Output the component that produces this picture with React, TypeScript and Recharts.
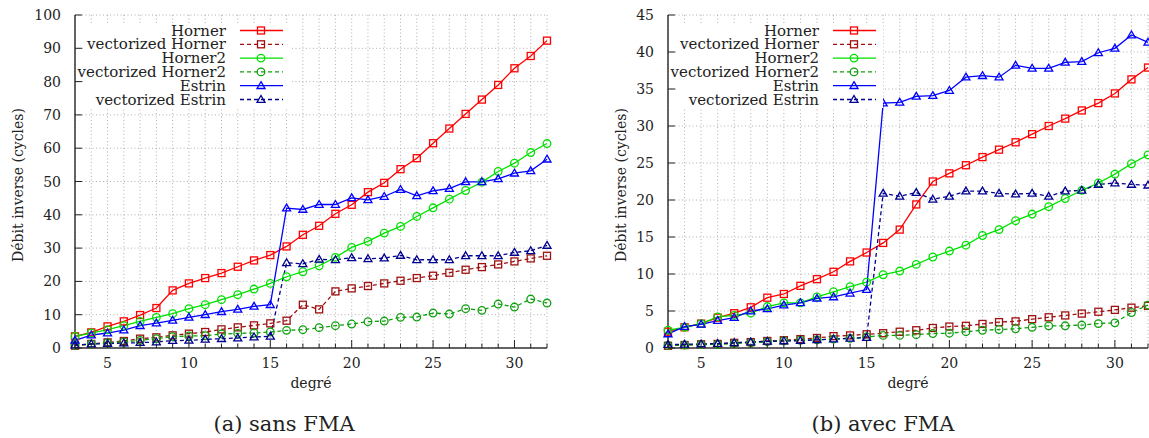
import React from 'react'
import { LineChart, Line, XAxis, YAxis, CartesianGrid, Legend } from 'recharts'

// degrés du polynôme (axe x)
const degres = [3, 4, 5, 6, 7, 8, 9, 10, 11, 12, 13, 14, 15, 16, 17, 18, 19, 20, 21, 22, 23, 24, 25, 26, 27, 28, 29, 30, 31, 32]
const xLabels = [5, 10, 15, 20, 25, 30]
const yTicksSans = [0, 10, 20, 30, 40, 50, 60, 70, 80, 90, 100]
const yTicksAvec = [0, 5, 10, 15, 20, 25, 30, 35, 40, 45]

// (a) sans FMA
const hornerSans = [3.5, 4.7, 6.5, 8.0, 9.9, 12.0, 17.3, 19.4, 21.0, 22.5, 24.4, 26.3, 27.9, 30.5, 34.0, 36.7, 40.3, 43.0, 46.8, 49.6, 53.7, 57.0, 61.5, 65.9, 70.3, 74.6, 79.0, 84.0, 87.7, 92.3]
const vecHornerSans = [0.7, 1.2, 1.7, 2.1, 2.8, 3.2, 3.8, 4.3, 4.8, 5.6, 6.2, 6.8, 7.4, 8.2, 13.0, 11.6, 17.0, 17.9, 18.6, 19.4, 20.2, 21.0, 21.7, 22.6, 23.5, 24.3, 25.1, 26.0, 26.9, 27.7]
const horner2Sans = [3.5, 4.5, 5.5, 6.7, 8.0, 9.2, 10.3, 11.8, 13.0, 14.5, 16.0, 17.7, 19.4, 21.4, 22.9, 24.7, 27.2, 30.2, 32.0, 34.5, 36.5, 39.5, 42.1, 44.7, 47.3, 49.8, 53.0, 55.5, 58.7, 61.4]
const vecHorner2Sans = [0.8, 1.2, 1.5, 1.8, 2.3, 2.8, 3.4, 3.6, 3.7, 4.2, 4.4, 4.5, 4.8, 5.3, 5.5, 6.1, 6.7, 7.2, 7.9, 8.1, 9.2, 9.3, 10.5, 10.2, 11.8, 11.3, 13.2, 12.3, 14.7, 13.5]
const estrinSans = [2.3, 3.9, 4.5, 5.4, 6.7, 7.5, 8.3, 9.2, 10.0, 10.9, 11.6, 12.5, 13.0, 42.0, 41.6, 43.1, 43.1, 45.1, 44.5, 45.5, 47.6, 45.7, 47.2, 47.9, 49.9, 49.9, 50.8, 52.5, 53.2, 56.7]
const vecEstrinSans = [0.9, 1.2, 1.3, 1.5, 1.6, 1.8, 2.2, 2.3, 2.6, 2.8, 3.0, 3.3, 3.5, 25.6, 25.3, 26.6, 26.5, 27.1, 26.8, 27.0, 27.8, 26.5, 26.5, 26.5, 27.7, 27.7, 27.7, 28.7, 29.2, 30.8]

// (b) avec FMA
const hornerAvec = [2.2, 2.8, 3.3, 4.1, 4.7, 5.5, 6.8, 7.3, 8.4, 9.3, 10.3, 11.7, 12.9, 14.2, 16.0, 19.4, 22.5, 23.6, 24.7, 25.8, 26.8, 27.8, 28.9, 30.0, 31.0, 32.1, 33.1, 34.4, 36.3, 37.9]
const vecHornerAvec = [0.3, 0.4, 0.5, 0.55, 0.7, 0.8, 0.95, 1.05, 1.2, 1.35, 1.6, 1.7, 1.85, 2.0, 2.2, 2.4, 2.7, 2.9, 3.0, 3.25, 3.5, 3.6, 3.9, 4.15, 4.4, 4.65, 4.9, 5.15, 5.45, 5.7]
const horner2Avec = [2.4, 2.8, 3.3, 4.2, 4.4, 4.7, 5.6, 6.1, 6.1, 6.9, 7.6, 8.3, 8.9, 9.9, 10.4, 11.3, 12.3, 13.1, 13.9, 15.2, 16.0, 17.2, 18.1, 19.1, 20.2, 21.3, 22.3, 23.5, 24.9, 26.1]
const vecHorner2Avec = [0.35, 0.4, 0.45, 0.5, 0.6, 0.7, 0.85, 0.95, 1.05, 1.1, 1.2, 1.3, 1.5, 1.7, 1.7, 1.8, 1.95, 2.0, 2.2, 2.4, 2.5, 2.6, 2.8, 3.0, 3.0, 3.1, 3.3, 3.4, 4.8, 5.8]
const estrinAvec = [1.9, 2.9, 3.2, 3.7, 4.1, 5.0, 5.3, 5.8, 6.1, 6.7, 6.9, 7.4, 7.9, 33.1, 33.2, 34.0, 34.1, 34.8, 36.6, 36.8, 36.6, 38.2, 37.8, 37.8, 38.6, 38.7, 39.9, 40.5, 42.3, 41.3]
const vecEstrinAvec = [0.45, 0.5, 0.55, 0.6, 0.7, 0.8, 0.9, 0.95, 1.0, 1.1, 1.2, 1.3, 1.4, 20.9, 20.5, 21.0, 20.1, 20.5, 21.2, 21.2, 20.9, 20.8, 20.9, 20.5, 21.2, 21.3, 22.1, 22.3, 22.1, 22.0]

const FONT = '"DejaVu Serif", serif'
const INK = '#222'

type Shape = 'square' | 'circle' | 'triangle'
interface SeriesDef {
  key: string
  name: string
  color: string
  dashed: boolean
  shape: Shape
}

const SERIES: SeriesDef[] = [
  { key: 'horner', name: 'Horner', color: '#ff0000', dashed: false, shape: 'square' },
  { key: 'vecHorner', name: 'vectorized Horner', color: '#a01010', dashed: true, shape: 'square' },
  { key: 'horner2', name: 'Horner2', color: '#00e000', dashed: false, shape: 'circle' },
  { key: 'vecHorner2', name: 'vectorized Horner2', color: '#10a010', dashed: true, shape: 'circle' },
  { key: 'estrin', name: 'Estrin', color: '#0000ff', dashed: false, shape: 'triangle' },
  { key: 'vecEstrin', name: 'vectorized Estrin', color: '#000090', dashed: true, shape: 'triangle' },
]

const rowsOf = (cols: Record<string, number[]>) =>
  degres.map((d, i) => {
    const row: Record<string, number> = { degre: d }
    Object.keys(cols).forEach((k) => (row[k] = cols[k][i]))
    return row
  })

const dataSans = rowsOf({
  horner: hornerSans, vecHorner: vecHornerSans, horner2: horner2Sans,
  vecHorner2: vecHorner2Sans, estrin: estrinSans, vecEstrin: vecEstrinSans,
})
const dataAvec = rowsOf({
  horner: hornerAvec, vecHorner: vecHornerAvec, horner2: horner2Avec,
  vecHorner2: vecHorner2Avec, estrin: estrinAvec, vecEstrin: vecEstrinAvec,
})

function Marker({ shape, x, y, color }: { shape: Shape; x: number; y: number; color: string }) {
  if (shape === 'square')
    return <rect x={x - 3.5} y={y - 3.5} width={7} height={7} fill="none" stroke={color} strokeWidth={1.3} />
  if (shape === 'circle') return <circle cx={x} cy={y} r={3.8} fill="none" stroke={color} strokeWidth={1.3} />
  return (
    <polygon
      points={`${x},${y - 4} ${x + 4},${y + 2.8} ${x - 4},${y + 2.8}`}
      fill="none"
      stroke={color}
      strokeWidth={1.3}
    />
  )
}

const makeDot = (s: SeriesDef) => (props: any) => {
  const { cx, cy, index } = props
  if (cx == null || cy == null) return <g key={`${s.key}-${index}`} />
  return <Marker key={`${s.key}-${index}`} shape={s.shape} x={cx} y={cy} color={s.color} />
}

const isMajorX = (v: number) => xLabels.includes(v)

const BottomTick = (props: any) => {
  const { x, y, payload } = props
  const v = payload.value
  const major = isMajorX(v)
  return (
    <g>
      <line x1={x} x2={x} y1={y} y2={y - (major ? 8 : 4.5)} stroke={INK} strokeWidth={1} />
      {major && (
        <text x={x} y={y + 20} textAnchor="middle" fontSize={14} fontFamily={FONT} fill={INK}>
          {v}
        </text>
      )}
    </g>
  )
}

const TopTick = (props: any) => {
  const { x, y, payload } = props
  const major = isMajorX(payload.value)
  return <line x1={x} x2={x} y1={y} y2={y + (major ? 8 : 4.5)} stroke={INK} strokeWidth={1} />
}

const LeftTick = (props: any) => {
  const { x, y, payload } = props
  return (
    <g>
      <line x1={x} x2={x + 7} y1={y} y2={y} stroke={INK} strokeWidth={1} />
      <text x={x - 14} y={y + 5} textAnchor="end" fontSize={14} fontFamily={FONT} fill={INK}>
        {payload.value}
      </text>
    </g>
  )
}

const RightTick = (props: any) => {
  const { x, y } = props
  return <line x1={x} x2={x - 7} y1={y} y2={y} stroke={INK} strokeWidth={1} />
}

const LEG_W = 207
const LEG_H = 84

const renderLegend = (props: any) => {
  const payload: any[] = props.payload ?? []
  return (
    <svg width={LEG_W} height={LEG_H} style={{ display: 'block', background: '#fff', overflow: 'visible' }}>
      {SERIES.map((s, i) => {
        const entry = payload.find((p) => p.dataKey === s.key || p.value === s.name)
        const cy = 6.5 + i * 13.8
        const color = entry?.color ?? s.color
        return (
          <g key={s.key}>
            <text x={143} y={cy + 5} textAnchor="end" fontSize={15} fontFamily={FONT} fill={INK}>
              {entry?.value ?? s.name}
            </text>
            <line
              x1={157}
              x2={200}
              y1={cy}
              y2={cy}
              stroke={color}
              strokeWidth={1.3}
              strokeDasharray={s.dashed ? '4 3' : undefined}
            />
            <Marker shape={s.shape} x={178} y={cy} color={color} />
          </g>
        )
      })}
    </svg>
  )
}

const frame = { stroke: '#333', strokeWidth: 1.5 }

interface PanelProps {
  data: Record<string, number>[]
  yTicks: number[]
  yMax: number
  left: number
  width: number
  marginLeft: number
  marginRight: number
}

function Panel({ data, yTicks, yMax, left, width, marginLeft, marginRight }: PanelProps) {
  const plotLeft = marginLeft + 60
  return (
    <div style={{ position: 'absolute', left, top: 0 }}>
      <LineChart
        width={width}
        height={370}
        data={data}
        margin={{ top: 15, right: marginRight, bottom: 0, left: marginLeft }}
        style={{ fontFamily: FONT }}
      >
        <CartesianGrid stroke="#b0b0b0" strokeDasharray="1 2.5" strokeWidth={1} />
        <XAxis
          dataKey="degre"
          type="number"
          domain={[3, 32]}
          ticks={degres}
          interval={0}
          height={22}
          tickSize={0}
          tickMargin={0}
          tickLine={false}
          axisLine={frame}
          tick={BottomTick}
        />
        <XAxis
          xAxisId="top"
          orientation="top"
          dataKey="degre"
          type="number"
          domain={[3, 32]}
          ticks={degres}
          interval={0}
          height={0}
          tickSize={0}
          tickMargin={0}
          tickLine={false}
          axisLine={frame}
          tick={TopTick}
        />
        <YAxis
          type="number"
          domain={[0, yMax]}
          ticks={yTicks}
          interval={0}
          width={60}
          tickSize={0}
          tickMargin={0}
          tickLine={false}
          axisLine={frame}
          tick={LeftTick}
        />
        <YAxis
          yAxisId="right"
          orientation="right"
          type="number"
          domain={[0, yMax]}
          ticks={yTicks}
          interval={0}
          width={0}
          tickSize={0}
          tickMargin={0}
          tickLine={false}
          axisLine={frame}
          tick={RightTick}
        />
        <Legend
          content={renderLegend}
          layout="vertical"
          align="center"
          verticalAlign="middle"
          width={LEG_W}
          height={LEG_H}
          wrapperStyle={{ left: plotLeft + 8, top: 24, width: LEG_W, height: LEG_H, background: '#fff', overflow: 'visible' }}
        />
        {SERIES.map((s) => (
          <Line
            key={s.key}
            dataKey={s.key}
            name={s.name}
            stroke={s.color}
            strokeWidth={1.3}
            strokeDasharray={s.dashed ? '4 3' : undefined}
            dot={makeDot(s)}
            activeDot={false}
            isAnimationActive={false}
            type="linear"
          />
        ))}
      </LineChart>
    </div>
  )
}

export default function App() {
  return (
    <div
      style={{
        position: 'absolute',
        left: 0,
        top: 0,
        width: 1149,
        height: 438,
        background: '#fff',
        overflow: 'hidden',
      }}
    >
      <svg width={1149} height={438} style={{ position: 'absolute', left: 0, top: 0 }}>
        <g fontFamily={FONT} fill={INK}>
          <text transform="translate(18,185) rotate(-90)" textAnchor="middle" dy="0.35em" fontSize={14}>
            Débit inverse (cycles)
          </text>
          <text transform="translate(621,185) rotate(-90)" textAnchor="middle" dy="0.35em" fontSize={14}>
            Débit inverse (cycles)
          </text>
          <text x={311} y={388} textAnchor="middle" fontSize={14}>degré</text>
          <text x={908} y={388} textAnchor="middle" fontSize={14}>degré</text>
          <text x={284} y={431} textAnchor="middle" fontSize={21}>(a) sans FMA</text>
          <text x={883} y={431} textAnchor="middle" fontSize={21}>(b) avec FMA</text>
        </g>
      </svg>
      <Panel data={dataSans} yTicks={yTicksSans} yMax={100} left={0} width={560} marginLeft={15} marginRight={13} />
      <Panel data={dataAvec} yTicks={yTicksAvec} yMax={45} left={580} width={569} marginLeft={28} marginRight={1} />
    </div>
  )
}
